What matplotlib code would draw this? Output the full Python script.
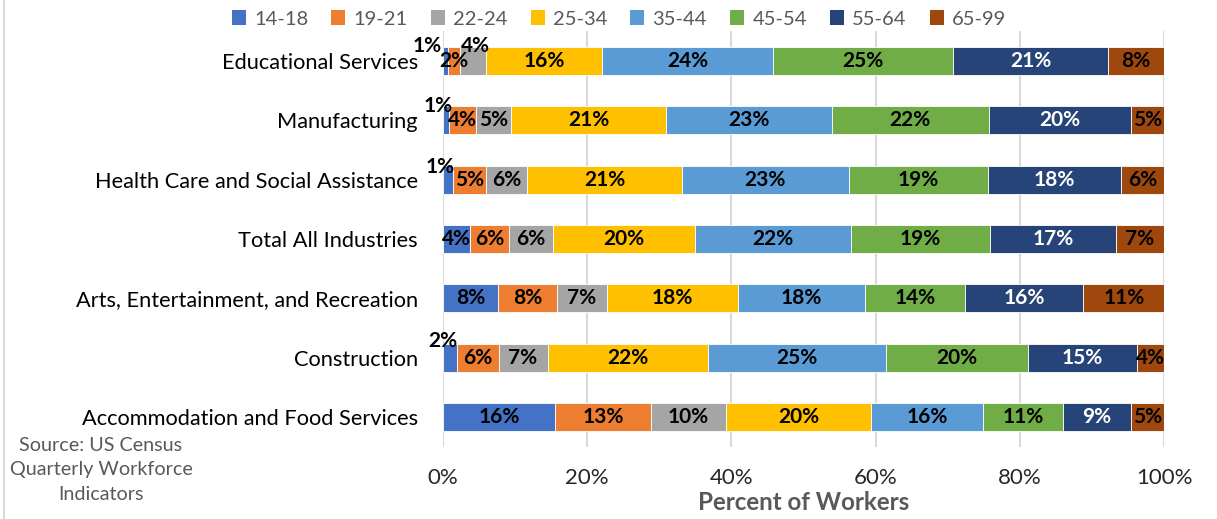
import matplotlib
matplotlib.use("Agg")
import matplotlib.pyplot as plt
from matplotlib.lines import Line2D
from matplotlib.patches import Patch

# ---------------- data ----------------
industries = [
    "Educational Services",
    "Manufacturing",
    "Health Care and Social Assistance",
    "Total All Industries",
    "Arts, Entertainment, and Recreation",
    "Construction",
    "Accommodation and Food Services",
]
age_groups = ["14-18", "19-21", "22-24", "25-34", "35-44", "45-54", "55-64", "65-99"]

a14_18 = [0.7, 0.9, 1.4, 3.7, 7.6, 2.0, 15.6]
a19_21 = [1.7, 3.7, 4.6, 5.5, 8.2, 5.7, 13.3]
a22_24 = [3.6, 4.9, 5.7, 6.0, 6.9, 6.8, 10.3]
a25_34 = [16.1, 21.4, 21.4, 19.8, 18.2, 22.2, 20.2]
a35_44 = [23.7, 23.0, 23.2, 21.6, 17.6, 24.7, 15.5]
a45_54 = [25.0, 21.8, 19.3, 19.3, 13.9, 19.7, 11.1]
a55_64 = [21.4, 19.7, 18.4, 17.4, 16.4, 15.1, 9.4]
a65_99 = [7.9, 4.7, 6.1, 6.7, 11.3, 3.8, 4.6]
series = [a14_18, a19_21, a22_24, a25_34, a35_44, a45_54, a55_64, a65_99]

x_ticks = [0, 20, 40, 60, 80, 100]
x_tick_labels = ["0%", "20%", "40%", "60%", "80%", "100%"]

# ---------------- style ----------------
colors = ["#4472C4", "#ED7D31", "#A5A5A5", "#FFC000",
          "#5B9BD5", "#70AD47", "#264478", "#9E480E"]
label_colors = ["black"] * 6 + ["white", "black"]
# manual label offsets in pixels: (industry index, series index) -> (dx, dy)
label_offsets = {
    (0, 0): (-18, 15), (0, 2): (2, 15),
    (1, 0): (-8, 14),
    (2, 0): (-8, 13),
    (5, 0): (-7, 17),
}
FONT = ["Lato", "DejaVu Sans"]
plt.rcParams["font.family"] = FONT

fig = plt.figure(figsize=(12.17, 5.19), dpi=100)
ax = fig.add_axes([443 / 1217, 1 - 447 / 519, (1164 - 443) / 1217, (447 - 31) / 519])

n = len(industries)
ypos = [n - 1 - i for i in range(n)]
left = [0.0] * n
for s, (vals, col) in enumerate(zip(series, colors)):
    ax.barh(ypos, vals, left=left, height=0.47, color=col,
            edgecolor="white", linewidth=0.6, zorder=3, label=age_groups[s])
    for i, (v, l) in enumerate(zip(vals, left)):
        dx, dy = label_offsets.get((i, s), (0, 0))
        ax.annotate(f"{round(v):d}%", xy=(l + v / 2, ypos[i]), xytext=(dx, dy),
                    textcoords="offset pixels", ha="center", va="center",
                    fontsize=15, fontweight="bold", color=label_colors[s], zorder=5)
    left = [a + b for a, b in zip(left, vals)]

ax.set_xlim(0, 100)
ax.set_ylim(-0.5, n - 0.5)
ax.set_yticks(ypos)
ax.set_yticklabels(industries, fontsize=15.7, color="black")
for t in ax.get_yticklabels():
    t.set_va("center_baseline")
ax.set_xticks(x_ticks)
ax.set_xticklabels(x_tick_labels, fontsize=16, color="#262626")
ax.tick_params(axis="y", length=0, pad=18)
ax.tick_params(axis="x", length=0, pad=15)
ax.xaxis.grid(True, color="#D9D9D9", linewidth=1.5, zorder=0)
for sp in ax.spines.values():
    sp.set_visible(False)
ax.set_xlabel("Percent of Workers", fontsize=17.4, fontweight="bold",
              color="#595959", labelpad=2)

handles = [Patch(facecolor=c, edgecolor="none") for c in colors]
fig.legend(handles, age_groups, loc="center", bbox_to_anchor=(619 / 1217, 1 - 19 / 519),
           ncol=8, frameon=False, fontsize=14.5, handlelength=0.7, handleheight=0.7,
           handletextpad=0.4, columnspacing=1.15, labelcolor="#595959")

fig.text(101 / 1217, 1 - 470 / 519, "Source: US Census\nQuarterly Workforce\nIndicators",
         ha="center", va="center", fontsize=14.2, color="#595959", linespacing=1.55)

fig.add_artist(Line2D([3.5 / 1217, 3.5 / 1217], [0, 1], color="#D9D9D9", linewidth=1.5))

fig.savefig("out.png", dpi=100)
